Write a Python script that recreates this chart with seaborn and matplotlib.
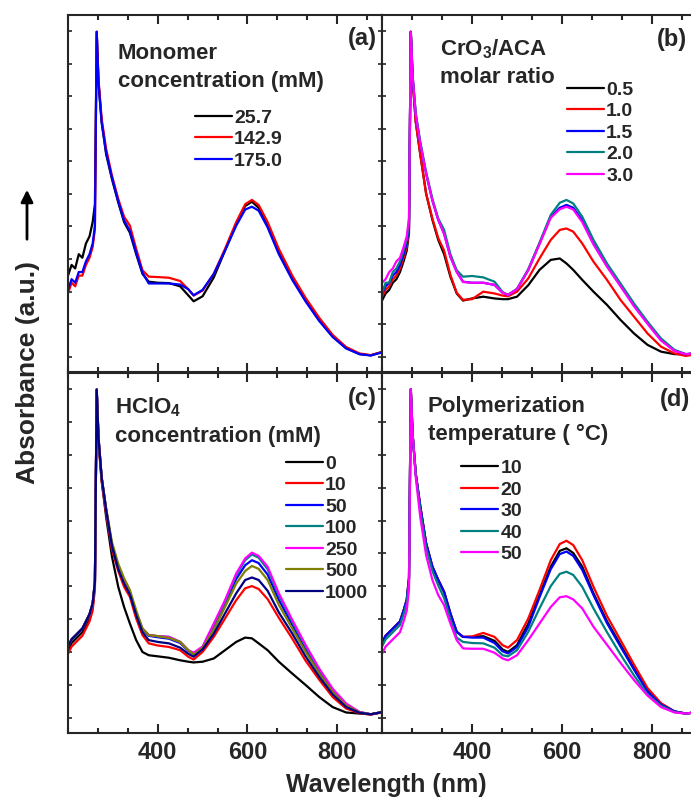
import pandas as pd
import seaborn as sns
import matplotlib.pyplot as plt
from matplotlib.ticker import MultipleLocator
import numpy as np

# wavelength grid (nm) shared by all spectra
wl = [200, 208, 216, 224, 232, 240, 248, 255, 260, 264, 268, 275, 285, 298, 312, 325, 338, 352,
      366, 380, 400, 425, 450, 468, 480, 500, 525, 550, 575, 595, 610, 625, 645, 670, 700, 730,
      760, 790, 820, 850, 875, 900]

## (a) monomer concentration
a_labels = ['25.7', '142.9', '175.0']
a_257 = [0.27, 0.30, 0.29, 0.33, 0.32, 0.36, 0.38, 0.42, 0.47, 0.953, 0.81, 0.70, 0.61, 0.54, 0.475, 0.42, 0.39, 0.33,
         0.275, 0.253, 0.25, 0.249, 0.24, 0.215, 0.198, 0.212, 0.265, 0.34, 0.415, 0.465, 0.477, 0.46, 0.41, 0.335, 0.262, 0.20,
         0.145, 0.10, 0.067, 0.05, 0.047, 0.056]
a_1429 = [0.22, 0.25, 0.24, 0.27, 0.27, 0.30, 0.32, 0.35, 0.40, 0.953, 0.82, 0.71, 0.625, 0.55, 0.485, 0.435, 0.41, 0.345,
          0.285, 0.267, 0.266, 0.264, 0.255, 0.232, 0.214, 0.228, 0.275, 0.345, 0.42, 0.47, 0.482, 0.468, 0.42, 0.345, 0.27, 0.207,
          0.152, 0.104, 0.07, 0.052, 0.047, 0.056]
a_1750 = [0.23, 0.26, 0.25, 0.28, 0.28, 0.31, 0.33, 0.36, 0.41, 0.953, 0.81, 0.70, 0.615, 0.545, 0.478, 0.425, 0.395, 0.335,
          0.278, 0.248, 0.248, 0.248, 0.245, 0.232, 0.215, 0.23, 0.275, 0.34, 0.41, 0.455, 0.463, 0.452, 0.405, 0.33, 0.258, 0.197,
          0.143, 0.098, 0.066, 0.05, 0.046, 0.055]

## (b) CrO3/ACA molar ratio
b_labels = ['0.5', '1.0', '1.5', '2.0', '3.0']
b_05 = [0.20, 0.22, 0.23, 0.25, 0.26, 0.28, 0.31, 0.34, 0.39, 0.953, 0.82, 0.70, 0.61, 0.50, 0.426, 0.37, 0.33, 0.267,
        0.22, 0.20, 0.206, 0.211, 0.206, 0.204, 0.204, 0.211, 0.243, 0.286, 0.314, 0.318, 0.304, 0.286, 0.258, 0.225, 0.188, 0.146,
        0.108, 0.076, 0.057, 0.05, 0.05, 0.052]
b_10 = [0.21, 0.23, 0.24, 0.26, 0.27, 0.29, 0.32, 0.35, 0.40, 0.953, 0.82, 0.70, 0.61, 0.50, 0.43, 0.375, 0.34, 0.272,
        0.222, 0.202, 0.204, 0.225, 0.22, 0.214, 0.212, 0.225, 0.262, 0.318, 0.37, 0.398, 0.402, 0.393, 0.36, 0.309, 0.258, 0.202,
        0.155, 0.108, 0.071, 0.052, 0.045, 0.05]
b_15 = [0.22, 0.24, 0.25, 0.27, 0.28, 0.30, 0.33, 0.36, 0.41, 0.953, 0.83, 0.72, 0.64, 0.556, 0.48, 0.426, 0.388, 0.323,
        0.281, 0.253, 0.25, 0.25, 0.244, 0.222, 0.216, 0.232, 0.286, 0.36, 0.435, 0.46, 0.468, 0.46, 0.425, 0.36, 0.297, 0.243,
        0.187, 0.137, 0.09, 0.06, 0.05, 0.052]
b_20 = [0.22, 0.25, 0.25, 0.28, 0.29, 0.31, 0.34, 0.37, 0.42, 0.953, 0.83, 0.725, 0.645, 0.56, 0.485, 0.43, 0.398, 0.33,
        0.285, 0.267, 0.269, 0.265, 0.253, 0.224, 0.216, 0.233, 0.288, 0.362, 0.44, 0.474, 0.482, 0.472, 0.435, 0.37, 0.304, 0.248,
        0.192, 0.141, 0.094, 0.062, 0.05, 0.052]
b_30 = [0.25, 0.26, 0.28, 0.29, 0.31, 0.32, 0.35, 0.38, 0.43, 0.953, 0.83, 0.72, 0.64, 0.556, 0.48, 0.426, 0.386, 0.322,
        0.28, 0.252, 0.25, 0.25, 0.244, 0.222, 0.216, 0.232, 0.285, 0.358, 0.432, 0.456, 0.463, 0.455, 0.42, 0.357, 0.295, 0.24,
        0.184, 0.135, 0.088, 0.059, 0.05, 0.052]

## (c) HClO4 concentration
c_labels = ['0', '10', '50', '100', '250', '500', '1000']
c_0 = [0.23, 0.25, 0.26, 0.27, 0.28, 0.30, 0.32, 0.35, 0.41, 0.954, 0.81, 0.70, 0.60, 0.49, 0.406, 0.35, 0.304, 0.258,
       0.225, 0.216, 0.213, 0.209, 0.202, 0.198, 0.196, 0.198, 0.207, 0.23, 0.253, 0.265, 0.263, 0.249, 0.23, 0.198, 0.165, 0.133,
       0.10, 0.072, 0.057, 0.054, 0.052, 0.058]
c_10 = [0.22, 0.24, 0.25, 0.26, 0.27, 0.29, 0.31, 0.34, 0.40, 0.954, 0.81, 0.70, 0.61, 0.51, 0.45, 0.406, 0.378, 0.318,
        0.272, 0.249, 0.243, 0.239, 0.23, 0.212, 0.204, 0.225, 0.267, 0.318, 0.369, 0.402, 0.408, 0.40, 0.372, 0.32, 0.262, 0.20,
        0.148, 0.10, 0.068, 0.055, 0.051, 0.057]
c_50 = [0.24, 0.26, 0.27, 0.28, 0.29, 0.31, 0.33, 0.36, 0.42, 0.954, 0.82, 0.71, 0.62, 0.52, 0.46, 0.42, 0.388, 0.332,
        0.288, 0.27, 0.266, 0.262, 0.25, 0.228, 0.219, 0.236, 0.295, 0.358, 0.428, 0.466, 0.48, 0.472, 0.44, 0.37, 0.30, 0.232,
        0.17, 0.116, 0.078, 0.058, 0.052, 0.058]
c_100 = [0.24, 0.26, 0.27, 0.28, 0.29, 0.31, 0.33, 0.36, 0.42, 0.954, 0.82, 0.71, 0.62, 0.522, 0.462, 0.42, 0.388, 0.332,
         0.29, 0.272, 0.269, 0.267, 0.253, 0.23, 0.221, 0.239, 0.30, 0.364, 0.438, 0.48, 0.496, 0.487, 0.455, 0.383, 0.309, 0.24,
         0.176, 0.12, 0.08, 0.058, 0.052, 0.058]
c_250 = [0.24, 0.26, 0.27, 0.28, 0.29, 0.31, 0.33, 0.36, 0.42, 0.954, 0.82, 0.71, 0.62, 0.522, 0.462, 0.42, 0.388, 0.332,
         0.29, 0.272, 0.269, 0.267, 0.253, 0.23, 0.223, 0.24, 0.304, 0.369, 0.443, 0.485, 0.501, 0.492, 0.462, 0.388, 0.314, 0.244,
         0.179, 0.123, 0.082, 0.058, 0.052, 0.058]
c_500 = [0.24, 0.26, 0.27, 0.28, 0.29, 0.31, 0.33, 0.36, 0.42, 0.954, 0.82, 0.71, 0.625, 0.53, 0.47, 0.43, 0.397, 0.341,
         0.29, 0.272, 0.269, 0.264, 0.253, 0.23, 0.218, 0.236, 0.287, 0.35, 0.415, 0.45, 0.464, 0.456, 0.425, 0.356, 0.29, 0.225,
         0.165, 0.113, 0.076, 0.057, 0.052, 0.058]
c_1000 = [0.24, 0.26, 0.27, 0.28, 0.29, 0.31, 0.33, 0.36, 0.42, 0.954, 0.82, 0.71, 0.62, 0.52, 0.455, 0.415, 0.385, 0.328,
          0.28, 0.258, 0.253, 0.249, 0.237, 0.22, 0.212, 0.232, 0.276, 0.332, 0.388, 0.425, 0.432, 0.425, 0.395, 0.335, 0.276, 0.212,
          0.156, 0.107, 0.072, 0.056, 0.052, 0.058]

## (d) polymerization temperature
d_labels = ['10', '20', '30', '40', '50']
d_10 = [0.25, 0.27, 0.28, 0.29, 0.30, 0.31, 0.34, 0.37, 0.43, 0.955, 0.83, 0.72, 0.63, 0.527, 0.462, 0.425, 0.392, 0.332,
        0.281, 0.267, 0.267, 0.269, 0.256, 0.232, 0.225, 0.244, 0.304, 0.383, 0.462, 0.506, 0.513, 0.50, 0.462, 0.388, 0.31, 0.245,
        0.18, 0.118, 0.08, 0.06, 0.054, 0.058]
d_20 = [0.25, 0.27, 0.28, 0.29, 0.30, 0.31, 0.34, 0.37, 0.43, 0.955, 0.83, 0.72, 0.63, 0.527, 0.462, 0.425, 0.392, 0.332,
        0.281, 0.267, 0.268, 0.278, 0.267, 0.244, 0.237, 0.258, 0.318, 0.397, 0.48, 0.525, 0.534, 0.522, 0.48, 0.406, 0.325, 0.258,
        0.19, 0.125, 0.083, 0.06, 0.054, 0.058]
d_30 = [0.25, 0.27, 0.28, 0.29, 0.30, 0.31, 0.34, 0.37, 0.43, 0.955, 0.83, 0.72, 0.63, 0.527, 0.462, 0.425, 0.392, 0.332,
        0.281, 0.267, 0.265, 0.265, 0.25, 0.227, 0.221, 0.239, 0.295, 0.377, 0.455, 0.497, 0.504, 0.492, 0.453, 0.383, 0.305, 0.24,
        0.176, 0.115, 0.079, 0.06, 0.054, 0.058]
d_40 = [0.24, 0.26, 0.27, 0.28, 0.29, 0.30, 0.33, 0.36, 0.42, 0.955, 0.83, 0.72, 0.62, 0.515, 0.45, 0.41, 0.375, 0.315,
        0.265, 0.253, 0.25, 0.249, 0.237, 0.216, 0.213, 0.23, 0.281, 0.346, 0.408, 0.442, 0.448, 0.439, 0.406, 0.346, 0.28, 0.218,
        0.16, 0.107, 0.076, 0.058, 0.054, 0.058]
d_50 = [0.22, 0.24, 0.25, 0.26, 0.27, 0.28, 0.31, 0.34, 0.40, 0.955, 0.83, 0.71, 0.60, 0.494, 0.425, 0.383, 0.355, 0.304,
        0.258, 0.235, 0.234, 0.234, 0.223, 0.207, 0.202, 0.216, 0.258, 0.304, 0.35, 0.377, 0.38, 0.371, 0.346, 0.295, 0.245, 0.195,
        0.147, 0.104, 0.072, 0.057, 0.054, 0.058]

sns.set_style("ticks")
plt.rcParams['font.family'] = ['Liberation Sans', 'DejaVu Sans']
plt.rcParams['font.weight'] = 'bold'
plt.rcParams['mathtext.fontset'] = 'custom'
plt.rcParams['mathtext.rm'] = 'Liberation Sans:bold'
plt.rcParams['mathtext.it'] = 'Liberation Sans:bold'
plt.rcParams['mathtext.bf'] = 'Liberation Sans:bold'
plt.rcParams['mathtext.default'] = 'bf'
plt.rcParams['axes.linewidth'] = 1.5

W, H = 691, 802
fig = plt.figure(figsize=(W / 100, H / 100), dpi=100)


def px_axes(x0, y0, x1, y1):
    return fig.add_axes([x0 / W, 1 - y1 / H, (x1 - x0) / W, (y1 - y0) / H])


def draw_panel(ax, series, labels, colors, bottom_labels):
    df = pd.concat([pd.DataFrame({'nm': wl, 'abs': s, 'series': lab}) for s, lab in zip(series, labels)],
                   ignore_index=True)
    sns.lineplot(data=df, x='nm', y='abs', hue='series', hue_order=labels, palette=colors,
                 sort=False, estimator=None, legend=False, lw=1.6, ax=ax)
    ax.set(xlim=(200, 900), ylim=(0, 1), xlabel='', ylabel='')
    ax.set_xticks([400, 600, 800])
    ax.xaxis.set_minor_locator(MultipleLocator(200 / 3))
    ax.set_yticks(np.arange(0.043, 1.0, 0.0912))
    ax.tick_params(axis='x', which='major', direction='in', length=6.5, width=1.5, top=True, bottom=True,
                   labelsize=17, pad=6, labelbottom=bottom_labels)
    ax.tick_params(axis='x', which='minor', direction='in', length=3.3, width=1.5, top=True, bottom=True)
    ax.tick_params(axis='y', which='major', direction='in', length=3, width=1.2, left=True, right=True,
                   labelleft=False)
    for sp in ax.spines.values():
        sp.set_visible(True)
        sp.set_linewidth(1.5)


ax_a = px_axes(68, 15, 382, 372)
ax_b = px_axes(382, 15, 697, 372)
ax_c = px_axes(68, 373, 382, 733)
ax_d = px_axes(382, 373, 697, 733)

draw_panel(ax_a, [a_257, a_1429, a_1750], a_labels, ['black', 'red', 'blue'], False)
draw_panel(ax_b, [b_05, b_10, b_15, b_20, b_30], b_labels,
           ['black', 'red', 'blue', '#008080', '#FF00FF'], False)
draw_panel(ax_c, [c_0, c_10, c_50, c_100, c_250, c_500, c_1000], c_labels,
           ['black', 'red', 'blue', '#008080', '#FF00FF', '#808000', '#000080'], True)
draw_panel(ax_d, [d_10, d_20, d_30, d_40, d_50], d_labels,
           ['black', 'red', 'blue', '#008080', '#FF00FF'], True)

# legends
for ax, labels, anchor in [(ax_a, a_labels, (0.404, 0.737)), (ax_b, b_labels, (0.587, 0.815)),
                           (ax_c, c_labels, (0.694, 0.772)), (ax_d, d_labels, (0.251, 0.76))]:
    ax.legend(handles=ax.lines[:len(labels)], labels=labels, loc='upper left', bbox_to_anchor=anchor,
              frameon=False, fontsize=14, handlelength=1.9, handletextpad=0.12, labelspacing=0.2,
              borderpad=0, borderaxespad=0)

# panel titles
title_fs = 16
ax_a.text(0.159, 0.877, 'Monomer', transform=ax_a.transAxes, fontsize=title_fs)
ax_a.text(0.159, 0.798, 'concentration (mM)', transform=ax_a.transAxes, fontsize=title_fs)
ax_b.text(0.184, 0.888, r'CrO$_3$/ACA', transform=ax_b.transAxes, fontsize=title_fs)
ax_b.text(0.184, 0.810, 'molar ratio', transform=ax_b.transAxes, fontsize=title_fs)
ax_c.text(0.15, 0.889, r'HClO$_4$', transform=ax_c.transAxes, fontsize=title_fs)
ax_c.text(0.15, 0.808, 'concentration (mM)', transform=ax_c.transAxes, fontsize=title_fs)
ax_d.text(0.146, 0.892, 'Polymerization', transform=ax_d.transAxes, fontsize=title_fs)
ax_d.text(0.146, 0.814, 'temperature ( °C)', transform=ax_d.transAxes, fontsize=title_fs)

for ax, tag, xy in [(ax_a, '(a)', (0.984, 0.933)), (ax_b, '(b)', (0.968, 0.93)),
                    (ax_c, '(c)', (0.984, 0.928)), (ax_d, '(d)', (0.978, 0.925))]:
    ax.text(xy[0], xy[1], tag, transform=ax.transAxes, fontsize=17, ha='right', va='center')

# shared axis labels
fig.text(386 / W, 1 - 785 / H, 'Wavelength (nm)', fontsize=18, ha='center', va='center')
fig.text(28 / W, 1 - 372 / H, 'Absorbance (a.u.)', fontsize=19, rotation=90, ha='center', va='center')
ax_a.annotate('', xy=(27 / W, 1 - 187 / H), xytext=(27 / W, 1 - 242 / H), xycoords='figure fraction',
              textcoords='figure fraction',
              arrowprops=dict(arrowstyle='-|>', lw=2, color='black', mutation_scale=18))

fig.savefig('out.png', dpi=100)
